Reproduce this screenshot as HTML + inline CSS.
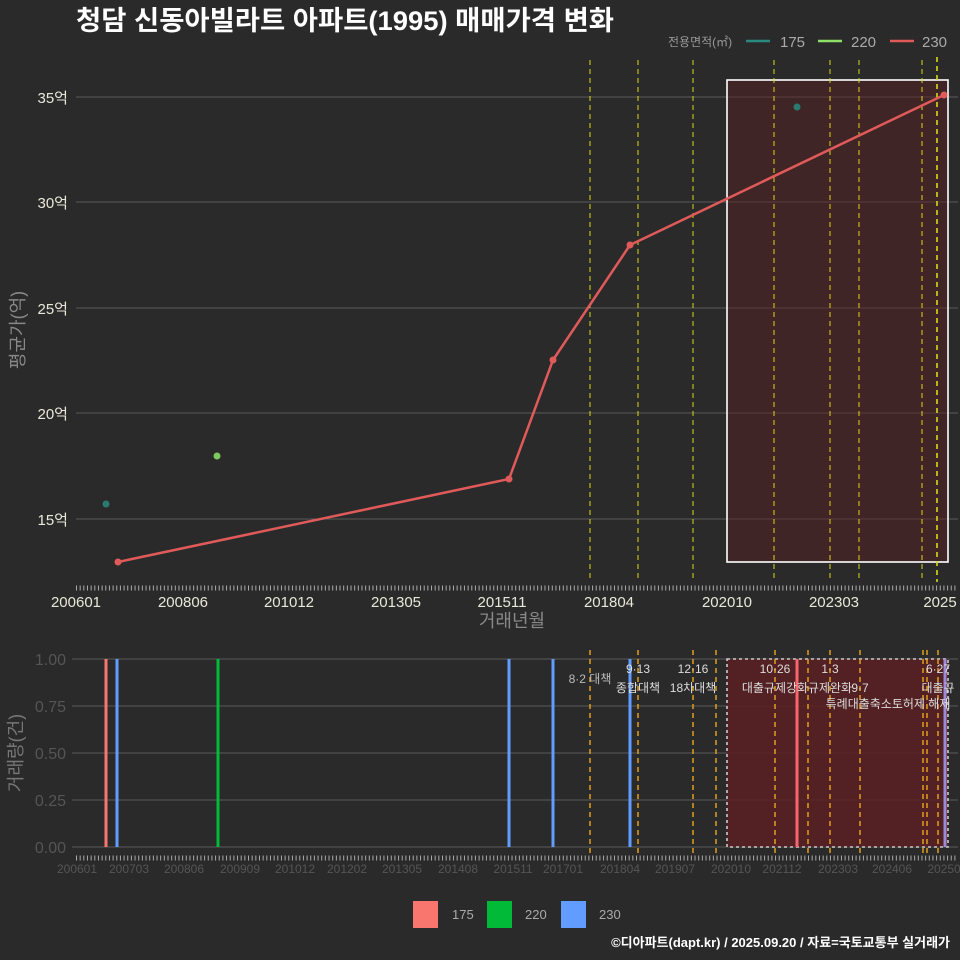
<!DOCTYPE html>
<html><head><meta charset="utf-8"><style>
html,body{margin:0;padding:0;background:#2a2a2b;}
svg{display:block;font-family:"Liberation Sans","Noto Sans CJK KR",sans-serif;}
</style></head><body>
<svg width="960" height="960" viewBox="0 0 960 960" xmlns="http://www.w3.org/2000/svg">
<rect width="960" height="960" fill="#2a2a2b"/>
<text x="76" y="30" font-size="27" font-weight="bold" fill="#fff" textLength="538" lengthAdjust="spacingAndGlyphs">청담 신동아빌라트 아파트(1995) 매매가격 변화</text>
<!-- legend top -->
<text x="668" y="46" font-size="12" fill="#999">전용면적(㎡)</text>
<line x1="746" y1="41" x2="770" y2="41" stroke="#2a8a80" stroke-width="2.5"/>
<text x="780" y="47" font-size="15" fill="#aaa">175</text>
<line x1="818" y1="41" x2="842" y2="41" stroke="#8ee06a" stroke-width="2.5"/>
<text x="851" y="47" font-size="15" fill="#aaa">220</text>
<line x1="890" y1="41" x2="914" y2="41" stroke="#e05858" stroke-width="2.5"/>
<text x="922" y="47" font-size="15" fill="#aaa">230</text>

<!-- top panel grid -->
<g stroke="#5a5a5a" stroke-width="1">
<line x1="76" y1="97" x2="958" y2="97"/>
<line x1="76" y1="202" x2="958" y2="202"/>
<line x1="76" y1="308" x2="958" y2="308"/>
<line x1="76" y1="413" x2="958" y2="413"/>
<line x1="76" y1="519" x2="958" y2="519"/>
</g>
<g font-size="15" fill="#e8e8d8" text-anchor="end">
<text x="68" y="103">35억</text><text x="68" y="208">30억</text><text x="68" y="314">25억</text><text x="68" y="419">20억</text><text x="68" y="525">15억</text>
</g>
<text transform="translate(24,330) rotate(-90)" font-size="18" fill="#888" text-anchor="middle">평균가(억)</text>
<rect x="727" y="80" width="221" height="482" fill="#5a1f22" fill-opacity="0.45" stroke="#fff" stroke-width="1.6"/>
<g stroke="#d8d81a" stroke-width="1" stroke-dasharray="5,4">
<line x1="590" y1="60" x2="590" y2="582"/><line x1="638" y1="60" x2="638" y2="582"/><line x1="693" y1="60" x2="693" y2="582"/><line x1="774" y1="60" x2="774" y2="582"/><line x1="830" y1="60" x2="830" y2="582"/><line x1="859" y1="60" x2="859" y2="582"/><line x1="922" y1="60" x2="922" y2="582"/><line x1="937" y1="57" x2="937" y2="582" stroke-width="1.6"/>
</g>
<polyline points="118,562 509,479 553,360 630,245 944,95" fill="none" stroke="#e05a5a" stroke-width="2.5"/>
<g fill="#e05a5a"><circle cx="118" cy="562" r="3.5"/><circle cx="509" cy="479" r="3.5"/><circle cx="553" cy="360" r="3.5"/><circle cx="630" cy="245" r="3.5"/><circle cx="944" cy="95" r="3.5"/></g>
<circle cx="106" cy="504" r="3.5" fill="#2a7a72"/><circle cx="797" cy="107" r="3.5" fill="#2a7a72"/>
<circle cx="217" cy="456" r="3.5" fill="#7ccc5c"/>
<line x1="76" y1="588" x2="958" y2="588" stroke="#aaa" stroke-width="5" stroke-dasharray="1,2.66"/>
<g font-size="15" fill="#e8e8d8" text-anchor="middle">
<text x="76" y="607">200601</text><text x="183" y="607">200806</text><text x="289" y="607">201012</text><text x="396" y="607">201305</text><text x="502" y="607">201511</text><text x="609" y="607">201804</text><text x="727" y="607">202010</text><text x="834" y="607">202303</text><text x="940" y="607">2025</text>
</g>
<text x="512" y="627" font-size="18" fill="#888" text-anchor="middle">거래년월</text>

<!-- bottom panel -->
<g stroke="#5a5a5a" stroke-width="1">
<line x1="72" y1="659" x2="958" y2="659"/><line x1="72" y1="706" x2="958" y2="706"/><line x1="72" y1="753" x2="958" y2="753"/><line x1="72" y1="800" x2="958" y2="800"/><line x1="72" y1="847" x2="958" y2="847"/>
</g>
<g font-size="16" fill="#555" text-anchor="end">
<text x="66" y="665">1.00</text><text x="66" y="712">0.75</text><text x="66" y="759">0.50</text><text x="66" y="806">0.25</text><text x="66" y="853">0.00</text>
</g>
<text transform="translate(22,753) rotate(-90)" font-size="18" fill="#777" text-anchor="middle">거래량(건)</text>
<rect x="727" y="659" width="221" height="188" fill="#5a1f22" fill-opacity="0.85" stroke="#ccc" stroke-width="1.6" stroke-dasharray="3,3"/>
<g stroke="#e0a020" stroke-width="1.5" stroke-dasharray="5,4">
<line x1="590" y1="650" x2="590" y2="857"/><line x1="638" y1="650" x2="638" y2="857"/><line x1="693" y1="650" x2="693" y2="857"/><line x1="716" y1="650" x2="716" y2="857"/><line x1="775" y1="650" x2="775" y2="857"/><line x1="808" y1="650" x2="808" y2="857"/><line x1="830" y1="650" x2="830" y2="857"/><line x1="860" y1="650" x2="860" y2="857"/><line x1="923" y1="650" x2="923" y2="857"/><line x1="927" y1="650" x2="927" y2="857"/><line x1="938" y1="650" x2="938" y2="857"/>
</g>
<g stroke-width="3">
<line x1="106" y1="659" x2="106" y2="847" stroke="#f8766d"/>
<line x1="117" y1="659" x2="117" y2="847" stroke="#619cff"/>
<line x1="218" y1="659" x2="218" y2="847" stroke="#00ba38"/>
<line x1="509" y1="659" x2="509" y2="847" stroke="#619cff"/>
<line x1="553" y1="659" x2="553" y2="847" stroke="#619cff"/>
<line x1="630" y1="659" x2="630" y2="847" stroke="#619cff"/>
<line x1="797" y1="659" x2="797" y2="847" stroke="#f8666d"/>
<line x1="945" y1="659" x2="945" y2="847" stroke="#9a8ad8"/>
</g>
<g font-size="12" fill="#ddd" text-anchor="middle">
<text x="590" y="683" fill="#bbb">8·2 대책</text>
<text x="638" y="673">9·13</text><text x="638" y="692">종합대책</text>
<text x="693" y="673">12·16</text><text x="693" y="692">18차대책</text>
<text x="775" y="673">10·26</text><text x="775" y="692">대출규제강화</text>
<text x="830" y="673">1·3</text><text x="830" y="692">규제완화</text>
<text x="860" y="692">9·7</text><text x="888" y="708">특례대출축소토허제 해제</text>
<text x="938" y="673">6·27</text><text x="938" y="692">대출규</text>
</g>
<line x1="76" y1="858" x2="958" y2="858" stroke="#aaa" stroke-width="5" stroke-dasharray="1,2.66"/>
<g font-size="12" fill="#555" text-anchor="middle">
<text x="77" y="873">200601</text><text x="129" y="873">200703</text><text x="184" y="873">200806</text><text x="240" y="873">200909</text><text x="295" y="873">201012</text><text x="347" y="873">201202</text><text x="402" y="873">201305</text><text x="458" y="873">201408</text><text x="513" y="873">201511</text><text x="563" y="873">201701</text><text x="620" y="873">201804</text><text x="675" y="873">201907</text><text x="731" y="873">202010</text><text x="782" y="873">202112</text><text x="838" y="873">202303</text><text x="892" y="873">202406</text><text x="944" y="873">20250</text>
</g>
<!-- bottom legend -->
<rect x="413" y="901" width="25" height="27" fill="#f8766d"/><text x="452" y="919" font-size="13" fill="#aaa">175</text>
<rect x="487" y="901" width="25" height="27" fill="#00ba38"/><text x="525" y="919" font-size="13" fill="#aaa">220</text>
<rect x="561" y="901" width="25" height="27" fill="#619cff"/><text x="599" y="919" font-size="13" fill="#aaa">230</text>
<text x="950" y="947" font-size="13" font-weight="bold" fill="#fff" text-anchor="end">©디아파트(dapt.kr) / 2025.09.20 / 자료=국토교통부 실거래가</text>
</svg>
</body></html>
